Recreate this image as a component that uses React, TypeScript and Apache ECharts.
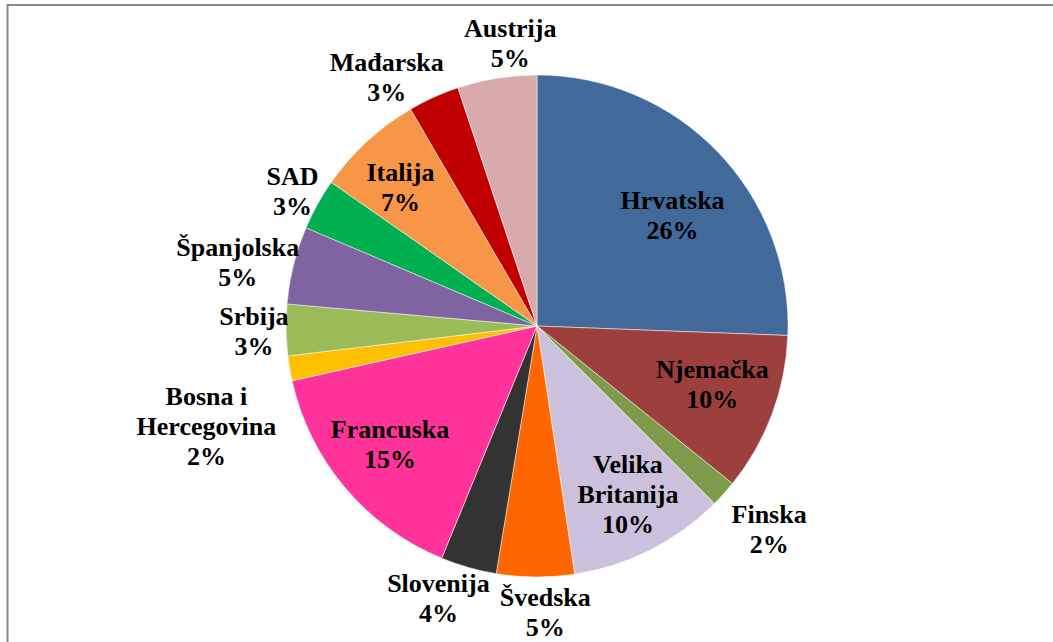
import React, { useEffect, useRef } from "react";
import * as echarts from "echarts";

// ---- data ----
const categories = [
  "Hrvatska",
  "Njemačka",
  "Finska",
  "Velika Britanija",
  "Švedska",
  "Slovenija",
  "Francuska",
  "Bosna i Hercegovina",
  "Srbija",
  "Španjolska",
  "SAD",
  "Italija",
  "Mađarska",
  "Austrija",
];
const shares = [25.6, 10.2, 1.7, 10.1, 5.0, 3.6, 15.3, 1.6, 3.3, 5.0, 3.3, 6.9, 3.3, 5.1];

// ---- style ----
const colors = [
  "#41699A",
  "#9D403D",
  "#7F9A48",
  "#CBC1DC",
  "#FF6600",
  "#333333",
  "#FF3399",
  "#FFC000",
  "#9BBB59",
  "#8064A2",
  "#00B050",
  "#F79646",
  "#C00000",
  "#D9AAAA",
];
const insideLabels = ["Hrvatska", "Njemačka", "Velika Britanija", "Francuska", "Italija"];
// label fine-tuning offsets (px), like Excel's best-fit placement
const labelNudge: Record<string, [number, number]> = {
  Hrvatska: [0, 20],
  "Njemačka": [-1, -7],
  "Velika Britanija": [6, 1],
  Francuska: [-3, -3],
  Italija: [-9, 0],
  "Mađarska": [-24, 31],
  Austrija: [20, 7],
  SAD: [12, 8],
  "Španjolska": [14, 15],
  Srbija: [8, 1],
  "Bosna i Hercegovina": [-3, 44],
  Slovenija: [-17, -15],
  "Švedska": [10, 0],
  Finska: [6, 0],
};
const CX = 537;
const CY = 326;
const R = 251;
const INSIDE_FACTOR = 0.75;
const OUT_GAP = 5;

export default function App() {
  const ref = useRef<HTMLDivElement>(null);
  useEffect(() => {
    document.body.style.margin = "0";
    const chart = echarts.init(ref.current!, null, { renderer: "svg" });
    const total = shares.reduce((a, b) => a + b, 0);
    const mids: number[] = [];
    let acc = 0;
    shares.forEach((v) => {
      mids.push(((acc + v / 2) / total) * 2 * Math.PI);
      acc += v;
    });
    chart.setOption({
      animation: false,
      backgroundColor: "#ffffff",
      graphic: [
        {
          type: "polyline",
          silent: true,
          shape: { points: [[7.5, 700], [7.5, 5], [1100, 5]] },
          style: { stroke: "#878787", lineWidth: 2, fill: null },
        },
      ],
      series: [
        {
          type: "pie",
          center: [CX, CY],
          radius: R,
          startAngle: 90,
          clockwise: true,
          avoidLabelOverlap: false,
          data: categories.map((name, i) => ({
            name,
            value: shares[i],
            itemStyle: { color: colors[i] },
          })),
          itemStyle: { borderColor: "#ffffff", borderWidth: 0.5 },
          label: {
            show: true,
            position: "inside",
            color: "#000",
            fontFamily: "'Liberation Serif', 'Times New Roman', serif",
            fontWeight: "bold",
            fontSize: 26,
            lineHeight: 30,
            align: "center",
            formatter: (p: any) => {
              const n = p.name as string;
              const k = n.lastIndexOf(" ");
              const lbl = k > 0 ? n.slice(0, k) + "\n" + n.slice(k + 1) : n;
              return lbl + "\n" + Math.round(p.percent) + "%";
            },
          },
          labelLine: { show: false },
          labelLayout: (params: any) => {
            const i = params.dataIndex;
            const a = mids[i];
            const dx = Math.sin(a);
            const dy = -Math.cos(a);
            const w = params.labelRect.width;
            const h = params.labelRect.height;
            let dist: number;
            if (insideLabels.includes(categories[i])) {
              dist = R * INSIDE_FACTOR;
            } else {
              dist = R + OUT_GAP + (Math.abs(dx) * w) / 2 + (Math.abs(dy) * h) / 2;
            }
            const nd = labelNudge[categories[i]] || [0, 0];
            return {
              x: CX + dx * dist + nd[0],
              y: CY + dy * dist + nd[1],
              align: "center",
              verticalAlign: "middle",
            };
          },
        },
      ],
    });
    return () => chart.dispose();
  }, []);
  return <div ref={ref} style={{ width: 1053, height: 642 }} />;
}
